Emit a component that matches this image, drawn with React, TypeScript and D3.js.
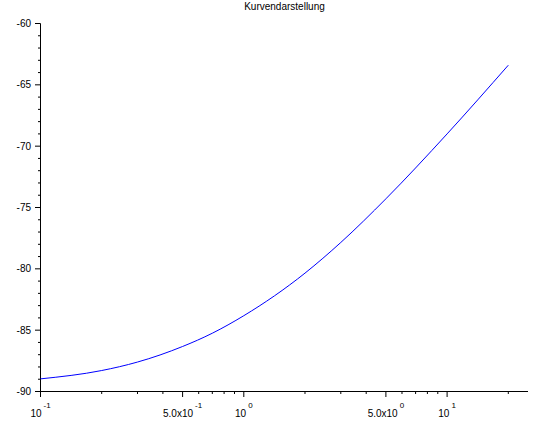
import * as d3 from "d3";

const title = "Kurvendarstellung";

// frequency points (log axis) and response values
const xValues = [0.1, 0.2, 0.3, 0.5, 0.7, 1, 2, 3, 5, 10, 20];
const yValues = [-88.97, -88.29, -87.6, -86.33, -85.25, -83.82, -80.35, -77.85, -74.29, -69.0, -63.4];

const xDomain = [0.1, 25];
const yDomain = [-90, -60];
const yMajorTicks = [-90, -85, -80, -75, -70, -65, -60];
const xMajorTicks = [
  { value: 0.1, mant: "", exp: "-1" },
  { value: 0.5, mant: "5.0x", exp: "-1" },
  { value: 1, mant: "", exp: "0" },
  { value: 5, mant: "5.0x", exp: "0" },
  { value: 10, mant: "", exp: "1" },
];
const xMinorTicks = [0.2, 0.3, 0.4, 0.6, 0.7, 0.8, 0.9, 2, 3, 4, 6, 7, 8, 9, 20];

const W = 542;
const H = 424;
const FONT = "'Liberation Sans', Arial, sans-serif";

export default function App() {
  const x = d3.scaleLog().domain(xDomain).range([40.5, 528]);
  const y = d3.scaleLinear().domain(yDomain).range([391.5, 23.5]);

  const points = xValues.map((v, i) => [v, yValues[i]] as [number, number]);
  const line = d3
    .line<[number, number]>()
    .x((d) => x(d[0]))
    .y((d) => y(d[1]))
    .curve(d3.curveMonotoneX);

  const yMinor = d3.range(yDomain[0], yDomain[1] + 1, 1).filter((v) => v % 5 !== 0);

  return (
    <div style={{ position: "fixed", left: 0, top: 0 }}>
      <svg width={W} height={H} style={{ display: "block", background: "#fff" }}>
        <text x={284.5} y={10} textAnchor="middle" fontFamily={FONT} fontSize={10} fill="#000">
          {title}
        </text>

        {/* y axis */}
        <line x1={40.5} x2={40.5} y1={y(-60)} y2={y(-90)} stroke="#000" />
        {yMajorTicks.map((t) => (
          <g key={t}>
            <line x1={35} x2={40.5} y1={y(t)} y2={y(t)} stroke="#000" />
            <text
              x={31}
              y={y(t)}
              textAnchor="end"
              dominantBaseline="central"
              fontFamily={FONT}
              fontSize={10}
              fill="#000"
            >
              {t}
            </text>
          </g>
        ))}
        {yMinor.map((t) => (
          <line key={t} x1={38} x2={40.5} y1={y(t)} y2={y(t)} stroke="#000" />
        ))}

        {/* x axis */}
        <line x1={40} x2={528} y1={391.5} y2={391.5} stroke="#000" />
        {xMajorTicks.map((t) => (
          <g key={t.value}>
            <line x1={x(t.value)} x2={x(t.value)} y1={391.5} y2={397} stroke="#000" />
            <text x={x(t.value)} y={416.5} textAnchor="middle" fontFamily={FONT} fontSize={10} fill="#000">
              <tspan>{t.mant + "10"}</tspan>
              <tspan dx={2} dy={-9} fontSize={8}>
                {t.exp}
              </tspan>
            </text>
          </g>
        ))}
        {xMinorTicks.map((t) => (
          <line key={t} x1={x(t)} x2={x(t)} y1={391.5} y2={394} stroke="#000" />
        ))}

        <path d={line(points) ?? ""} fill="none" stroke="#0000ff" strokeWidth={1} />
      </svg>
    </div>
  );
}
